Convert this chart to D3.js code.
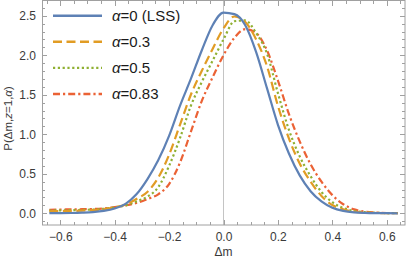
<!DOCTYPE html>
<html>
<head>
<meta charset="utf-8">
<script src="https://cdn.jsdelivr.net/npm/d3@7"></script>
<style>
  html, body { margin: 0; padding: 0; background: #fff; }
  svg { display: block; font-family: "Liberation Sans", Arial, sans-serif; }
</style>
</head>
<body>
<svg id="chart" width="407" height="266"></svg>
<script>
const dm = [-0.64, -0.60, -0.56, -0.52, -0.48, -0.44, -0.40, -0.36, -0.32, -0.28, -0.24, -0.20, -0.16,
            -0.12, -0.08, -0.04, 0.00, 0.04, 0.08, 0.12, 0.16, 0.20, 0.24, 0.28, 0.32, 0.36, 0.40,
            0.44, 0.48, 0.52, 0.56, 0.60, 0.64];

const pLSS = [0.001, 0.002, 0.004, 0.008, 0.015, 0.03, 0.06, 0.12, 0.24, 0.43, 0.67, 0.98, 1.36,
              1.70, 2.06, 2.38, 2.54, 2.52, 2.38, 2.04, 1.58, 1.12, 0.76, 0.48, 0.28, 0.15, 0.07,
              0.03, 0.012, 0.005, 0.002, 0.001, 0];
const p03 = [0.025, 0.027, 0.03, 0.034, 0.04, 0.05, 0.075, 0.11, 0.18, 0.27, 0.45, 0.74, 1.12,
             1.50, 1.80, 2.08, 2.34, 2.49, 2.42, 2.20, 1.86, 1.36, 0.95, 0.63, 0.40, 0.22, 0.105,
             0.05, 0.022, 0.01, 0.004, 0.002, 0.001];
const p05 = [0.035, 0.037, 0.04, 0.043, 0.048, 0.057, 0.075, 0.10, 0.15, 0.21, 0.33, 0.60, 0.95,
             1.36, 1.66, 1.93, 2.20, 2.43, 2.44, 2.28, 2.02, 1.52, 1.06, 0.72, 0.47, 0.27, 0.14,
             0.066, 0.03, 0.014, 0.006, 0.003, 0.001];
const p083 = [0.045, 0.047, 0.05, 0.052, 0.055, 0.062, 0.078, 0.10, 0.13, 0.18, 0.24, 0.37, 0.64,
              1.03, 1.42, 1.72, 2.00, 2.22, 2.33, 2.28, 2.06, 1.68, 1.26, 0.91, 0.62, 0.40, 0.23,
              0.115, 0.05, 0.022, 0.01, 0.004, 0.002];

const seriesNames = ["0 (LSS)", "0.3", "0.5", "0.83"];
const seriesVals = [pLSS, p03, p05, p083];
const seriesColors = ["#5E81B5", "#E19C24", "#8FB032", "#EB6235"];
const seriesDash = [null, "9,4.5", "2.2,2.6", "7,3,2.2,3"];

const xTicks = [-0.6, -0.4, -0.2, 0.0, 0.2, 0.4, 0.6];
const yTicks = [0.0, 0.5, 1.0, 1.5, 2.0, 2.5];

const pL = 42, pR = 405, pT = 1, pB = 225;

const x = d3.scaleLinear().domain([-0.667, 0.667]).range([pL, pR]);
const y = d3.scaleLinear().domain([-0.148, 2.686]).range([pB, pT]);

const svg = d3.select("#chart");
const fmt = d => d3.format(".1f")(d).replace("-", "\u2212");

const frameCol = "#a0a0a0";

// axis at x = 0
svg.append("line")
    .attr("x1", x(0)).attr("x2", x(0))
    .attr("y1", pT).attr("y2", pB)
    .attr("stroke", "#c4c4c4").attr("stroke-width", 1);

// curves
const plot = svg.append("g");
const line = d3.line()
    .x((d, i) => x(dm[i]))
    .y(d => y(d))
    .curve(d3.curveMonotoneX);

// draw back to front so the LSS curve is on top like the source
[3, 2, 1, 0].forEach(k => {
    plot.append("path")
        .attr("d", line(seriesVals[k]))
        .attr("fill", "none")
        .attr("stroke", seriesColors[k])
        .attr("stroke-width", 2.2)
        .attr("stroke-dasharray", seriesDash[k]);
});

// frame with ticks on all sides
const frame = svg.append("g");
frame.append("rect")
    .attr("x", pL + 0.5).attr("y", pT - 0.5)
    .attr("width", pR - pL - 0.5).attr("height", pB - pT + 0.5)
    .attr("fill", "none").attr("stroke", frameCol).attr("stroke-width", 1);

const xMinor = d3.range(-0.65, 0.66, 0.05).map(v => Math.round(v * 100) / 100);
const yMinor = d3.range(-0.1, 2.61, 0.1).map(v => Math.round(v * 10) / 10);

const xAxisB = d3.axisBottom(x).tickValues(xTicks).tickFormat(fmt).tickSize(0).tickPadding(7);
const gx = svg.append("g").attr("transform", `translate(0,${pB})`).call(xAxisB);
gx.select(".domain").remove();
gx.selectAll("text").attr("font-size", 12).attr("fill", "#3a3a3a")
    .attr("font-family", "Liberation Sans, Arial, sans-serif");

const yAxisL = d3.axisLeft(y).tickValues(yTicks).tickFormat(fmt).tickSize(0).tickPadding(6);
const gy = svg.append("g").attr("transform", `translate(${pL},0)`).call(yAxisL);
gy.select(".domain").remove();
gy.selectAll("text").attr("font-size", 12).attr("fill", "#3a3a3a")
    .attr("font-family", "Liberation Sans, Arial, sans-serif");

// tick marks drawn inward
const isMajorX = v => xTicks.some(t => Math.abs(t - v) < 1e-6);
const isMajorY = v => yTicks.some(t => Math.abs(t - v) < 1e-6);
xMinor.forEach(v => {
    const len = isMajorX(v) ? 5 : 3;
    const px = Math.round(x(v)) + 0.5;
    frame.append("line").attr("x1", px).attr("x2", px).attr("y1", pB).attr("y2", pB - len)
        .attr("stroke", frameCol);
    frame.append("line").attr("x1", px).attr("x2", px).attr("y1", pT).attr("y2", pT + len)
        .attr("stroke", frameCol);
});
yMinor.forEach(v => {
    const len = isMajorY(v) ? 5 : 3;
    const py = Math.round(y(v)) + 0.5;
    frame.append("line").attr("x1", pL).attr("x2", pL + len).attr("y1", py).attr("y2", py)
        .attr("stroke", frameCol);
    frame.append("line").attr("x1", pR).attr("x2", pR - len).attr("y1", py).attr("y2", py)
        .attr("stroke", frameCol);
});

// axis titles
svg.append("text")
    .attr("x", x(0)).attr("y", 256)
    .attr("text-anchor", "middle")
    .attr("font-size", 12).attr("fill", "#3a3a3a")
    .text("\u0394m");

const yl = svg.append("text")
    .attr("transform", `translate(12,${y(1.2)}) rotate(-90)`)
    .attr("text-anchor", "middle")
    .attr("font-size", 11.5).attr("fill", "#3a3a3a");
yl.append("tspan").text("P(\u0394m,");
yl.append("tspan").attr("font-style", "italic").text("z");
yl.append("tspan").text("=1,");
yl.append("tspan").attr("font-style", "italic").text("\u03b1");
yl.append("tspan").text(")");

// legend
const leg = svg.append("g");
seriesNames.forEach((name, k) => {
    const ly = 15.7 + k * 26.1;
    leg.append("line")
        .attr("x1", 53).attr("x2", 102).attr("y1", ly).attr("y2", ly)
        .attr("stroke", seriesColors[k]).attr("stroke-width", 2.4)
        .attr("stroke-dasharray", seriesDash[k]);
    const t = leg.append("text")
        .attr("x", 112).attr("y", ly + 5)
        .attr("font-size", 15).attr("fill", "#1a1a1a");
    t.append("tspan").attr("font-style", "italic").text("\u03b1");
    t.append("tspan").text("=" + name);
});
</script>
</body>
</html>
